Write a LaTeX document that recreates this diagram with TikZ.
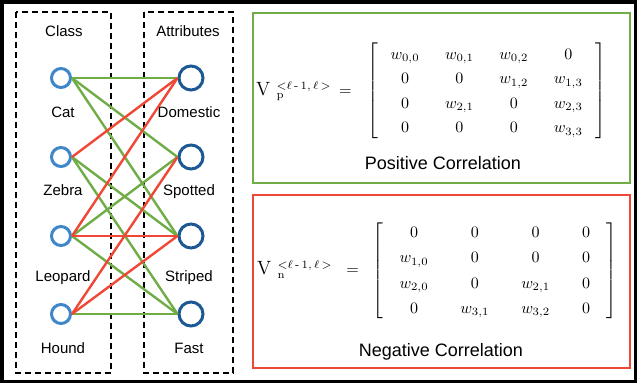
\documentclass[tikz,border=0pt]{standalone}
\usepackage{amsmath, amssymb}
\usepackage{graphicx}
\usepackage{fontspec}
\newfontfamily\arialfont{Liberation Sans}
\usepackage{xcolor}
\usetikzlibrary{positioning}

\definecolor{posgreen}{RGB}{112,173,71}
\definecolor{negred}{RGB}{239,72,54}
\definecolor{classblue}{RGB}{62,135,200}
\definecolor{attrblue}{RGB}{28,88,148}

\newcommand{\bigV}{\mbox{\large$\mathrm{V}$}}

\begin{document}
\begin{tikzpicture}[
        x=1pt, y=-1pt,
        lbl/.style={font=\arialfont\fontsize{15}{18}\selectfont, anchor=base, inner sep=0pt},
        caption/.style={font=\arialfont\fontsize{18}{22}\selectfont, anchor=base, inner sep=0pt},
        classnode/.style={circle, draw=classblue, line width=3pt, minimum size=19pt, inner sep=0pt},
        attrnode/.style={circle, draw=attrblue, line width=3pt, minimum size=24pt, inner sep=0pt},
        posedge/.style={draw=posgreen, line width=2.4pt},
        negedge/.style={draw=negred, line width=2.4pt},
        groupbox/.style={draw=black, line width=1.6pt, dash pattern=on 6pt off 4pt},
        eqn/.style={anchor=west, inner sep=0pt}
    ]
        \useasboundingbox (0,0) rectangle (640,386);

        % frames
        \draw[line width=3.5pt] (1.75,1.75) rectangle (635.5,381.5);
        \draw[groupbox] (16,12) rectangle (111,373);
        \draw[groupbox] (144,12) rectangle (233,373);
        \draw[posgreen, line width=2.7pt] (253,13) rectangle (630,183);
        \draw[negred, line width=2.7pt] (253,195) rectangle (630,368);

        \node[lbl] (classTitle) at (64,36.4) {Class};
        \node[lbl] (attrTitle) at (188,36.4) {Attributes};

        % classes
        \node[classnode] (cat)     at (61,78)  {};
        \node[classnode] (zebra)   at (61,157) {};
        \node[classnode] (leopard) at (61,236) {};
        \node[classnode] (hound)   at (61,314) {};

        \node[lbl] (catLbl)     at (63,117)   {Cat};
        \node[lbl] (zebraLbl)   at (63,195.5) {Zebra};
        \node[lbl] (leopardLbl) at (63,281)   {Leopard};
        \node[lbl] (houndLbl)   at (63,353.7) {Hound};

        % attributes
        \node[attrnode] (domestic) at (191,78)  {};
        \node[attrnode] (spotted)  at (191,157) {};
        \node[attrnode] (striped)  at (191,236) {};
        \node[attrnode] (fast)     at (191,314) {};

        \node[lbl] (domesticLbl) at (189,117)   {Domestic};
        \node[lbl] (spottedLbl)  at (189,195.5) {Spotted};
        \node[lbl] (stripedLbl)  at (189,281)   {Striped};
        \node[lbl] (fastLbl)     at (189,353.7) {Fast};

        % positive links
        \draw[posedge] (cat.east) -- (domestic.west);
        \draw[posedge] (cat.east) -- (spotted.west);
        \draw[posedge] (cat.east) -- (striped.west);
        \draw[posedge] (zebra.east) -- (striped.west);
        \draw[posedge] (zebra.east) -- (fast.west);
        \draw[posedge] (leopard.east) -- (spotted.west);
        \draw[posedge] (leopard.east) -- (fast.west);
        \draw[posedge] (hound.east) -- (fast.west);

        % negative links
        \draw[negedge] (zebra.east) -- (domestic.west);
        \draw[negedge] (leopard.east) -- (domestic.west);
        \draw[negedge] (leopard.east) -- (striped.west);
        \draw[negedge] (hound.east) -- (spotted.west);
        \draw[negedge] (hound.east) -- (striped.west);

        % matrices (10pt math, scaled up)
        \node[eqn] (vpos) at (256,91) {\scalebox{1.6}{\setlength{\arraycolsep}{8pt}\renewcommand{\arraystretch}{1.28}%
            $\bigV\hspace{4pt}{}^{<\ell\,\text{-}\,1,\,\ell\,>}_{\mathrm{p}}\hspace{2pt}=\hspace{7pt}\left[\begin{array}{cccc}
                w_{0,0} & w_{0,1} & w_{0,2} & 0 \\
                0 & 0 & w_{1,2} & w_{1,3} \\
                0 & w_{2,1} & 0 & w_{2,3} \\
                0 & 0 & 0 & w_{3,3}
            \end{array}\right]$}};
        \node[caption] (posLbl) at (443,169.5) {Positive Correlation};

        \node[eqn] (vneg) at (257,270.5) {\scalebox{1.6}{\setlength{\arraycolsep}{10pt}\renewcommand{\arraystretch}{1.32}%
            $\bigV\hspace{4pt}{}^{<\ell\,\text{-}\,1,\,\ell\,>}_{\mathrm{n}}\hspace{6pt}=\hspace{6pt}\left[\begin{array}{cccc}
                0 & 0 & 0 & 0 \\
                w_{1,0} & 0 & 0 & 0 \\
                w_{2,0} & 0 & w_{2,1} & 0 \\
                0 & w_{3,1} & w_{3,2} & 0
            \end{array}\right]$}};
        \node[caption] (negLbl) at (441,356) {Negative Correlation};

    \end{tikzpicture}
\end{document}
